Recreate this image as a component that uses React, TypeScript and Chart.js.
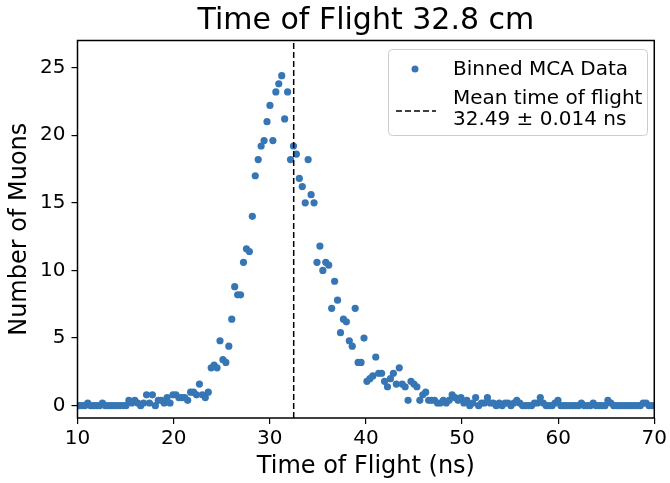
import { useEffect, useRef } from 'react';
import { Chart, registerables } from 'chart.js';

Chart.register(...registerables);

// MCA channel calibration (bin centers)
const binStart = 10.15;
const binWidth = 0.3057;

// Binned counts, one value per bin
const counts: number[] = [
  0, 0, 0, 0.2, 0, 0, 0, 0, 0.2, 0, 0, 0, 0, 0, 0, 0, 0,
  0.4, 0.2, 0.4, 0.2, 0, 0.2, 0.8, 0.2, 0.8, 0, 0.4, 0.4, 0.2, 0.6, 0.2, 0.8, 0.8, 0.6, 0.6, 0.6, 0.4,
  1.0, 1.0, 0.8, 1.6, 0.8, 0.6, 1.0, 2.8, 3.0, 2.8, 4.8, 3.4, 3.2, 4.4, 6.4, 8.8, 8.2, 8.2, 10.6, 11.6,
  11.4, 14.0, 17.0, 18.2, 19.2, 19.6, 21.0, 22.2, 19.6, 23.2, 23.8, 24.4, 21.2, 23.2, 18.2, 19.2, 18.6, 16.8, 16.2, 15.0, 18.2, 15.6, 15.0,
  10.6, 11.8, 10.0, 10.6, 10.4, 7.2, 9.2, 7.8, 5.4, 6.4, 6.2, 4.8, 4.4, 7.2, 3.2, 3.2, 5.0,
  1.8, 2.0, 2.2, 3.6, 2.4, 2.4, 1.8, 1.4, 2.0, 2.4, 1.6, 2.8, 1.6, 1.4, 0.4, 1.8, 1.6, 1.4, 0.4, 0.8, 1.0, 0.4, 0.4, 0.4, 0.2,
  0.2, 0.4, 0.2, 0.4, 0.8, 0.6, 0.4, 0.6, 0.2, 0.4, 0, 0.2, 0.6, 0, 0.2, 0.2, 0.6, 0.2, 0.2, 0, 0.2, 0, 0.2, 0.2, 0,
  0.2, 0.4, 0.2, 0, 0, 0, 0, 0.2, 0.2, 0.6, 0.2, 0, 0, 0, 0.2, 0.4, 0, 0, 0, 0, 0, 0, 0,
  0.2, 0, 0, 0, 0.2, 0, 0, 0, 0, 0.4, 0.2, 0, 0, 0, 0, 0, 0, 0, 0, 0, 0, 0.2, 0.2, 0, 0,
];

const meanTime = 32.49;
const xMin = 10;
const xMax = 70;
const yMin = -0.91;
const yMax = 27.0;
const xTicks = [10, 20, 30, 40, 50, 60, 70];
const yTicks = [0, 5, 10, 15, 20, 25];

const titleText = 'Time of Flight 32.8 cm';
const xLabel = 'Time of Flight (ns)';
const yLabel = 'Number of Muons';
const dataLabel = 'Binned MCA Data';
const meanLabel = ['Mean time of flight', '32.49 \u00b1 0.014 ns'];

const pointColor = '#3776b4';
const FONT = "'DejaVu Sans', sans-serif";

export default function App() {
  const canvasRef = useRef<HTMLCanvasElement | null>(null);

  useEffect(() => {
    document.body.style.margin = '0';
    const canvas = canvasRef.current;
    if (!canvas) return;

    const points = counts.map((c, i) => ({ x: binStart + binWidth * i, y: c }));

    const decor = {
      id: 'decor',
      afterDraw(chart: any) {
        const { ctx, chartArea } = chart;
        const { left, right, top, bottom } = chartArea;
        ctx.save();
        // frame
        ctx.strokeStyle = '#000';
        ctx.lineWidth = 1.5;
        ctx.strokeRect(left, top, right - left, bottom - top);
        // title
        ctx.fillStyle = '#000';
        ctx.font = `30px ${FONT}`;
        ctx.textAlign = 'center';
        ctx.textBaseline = 'alphabetic';
        ctx.fillText(titleText, (left + right) / 2, 29);

        // legend box
        const bx = 388.5, by = 49.5, bw = 259, bh = 86, r = 4;
        ctx.beginPath();
        ctx.moveTo(bx + r, by);
        ctx.lineTo(bx + bw - r, by);
        ctx.quadraticCurveTo(bx + bw, by, bx + bw, by + r);
        ctx.lineTo(bx + bw, by + bh - r);
        ctx.quadraticCurveTo(bx + bw, by + bh, bx + bw - r, by + bh);
        ctx.lineTo(bx + r, by + bh);
        ctx.quadraticCurveTo(bx, by + bh, bx, by + bh - r);
        ctx.lineTo(bx, by + r);
        ctx.quadraticCurveTo(bx, by, bx + r, by);
        ctx.closePath();
        ctx.fillStyle = 'rgba(255,255,255,0.8)';
        ctx.fill();
        ctx.strokeStyle = '#cccccc';
        ctx.lineWidth = 1;
        ctx.stroke();

        // legend marker
        ctx.fillStyle = pointColor;
        ctx.beginPath();
        ctx.arc(415, 69, 3.5, 0, Math.PI * 2);
        ctx.fill();
        // legend dashed line
        ctx.strokeStyle = '#000';
        ctx.lineWidth = 1.5;
        ctx.setLineDash([6, 3]);
        ctx.beginPath();
        ctx.moveTo(396, 111);
        ctx.lineTo(436, 111);
        ctx.stroke();
        ctx.setLineDash([]);

        ctx.fillStyle = '#000';
        ctx.font = `20px ${FONT}`;
        ctx.textAlign = 'left';
        ctx.textBaseline = 'alphabetic';
        ctx.fillText(dataLabel, 453, 75);
        ctx.fillText(meanLabel[0], 453, 104);
        ctx.fillText(meanLabel[1], 453, 125);
        ctx.restore();
      },
    };

    const chart = new Chart(canvas, {
      type: 'scatter',
      data: {
        datasets: [
          {
            type: 'line',
            label: meanLabel.join(' '),
            data: [
              { x: meanTime, y: yMin },
              { x: meanTime, y: yMax },
            ],
            borderColor: '#000',
            borderWidth: 1.5,
            borderDash: [6, 3],
            pointRadius: 0,
            fill: false,
          } as any,
          {
            label: dataLabel,
            data: points,
            backgroundColor: pointColor,
            borderWidth: 0,
            pointRadius: 3.6,
          },
        ],
      },
      options: {
        responsive: false,
        animation: false,
        events: [],
        font: { family: FONT },
        layout: { padding: { left: 0, right: 13, top: 40.5, bottom: 0 } },
        plugins: {
          legend: { display: false },
          tooltip: { enabled: false },
          title: { display: false },
        },
        scales: {
          x: {
            type: 'linear',
            min: xMin,
            max: xMax,
            afterBuildTicks: (s: any) => {
              s.ticks = xTicks.map((v) => ({ value: v }));
            },
            afterFit: (s: any) => {
              s.height = 65;
            },
            grid: {
              drawOnChartArea: false,
              drawTicks: true,
              tickLength: 6,
              color: '#000',
              lineWidth: 1.2,
            },
            border: { display: false },
            ticks: {
              color: '#000',
              font: { family: FONT, size: 20 },
              padding: 3,
              maxRotation: 0,
              autoSkip: false,
            },
            title: {
              display: true,
              text: xLabel,
              color: '#000',
              font: { family: FONT, size: 24, lineHeight: 1 },
              padding: { top: 0, bottom: 4 },
            },
          },
          y: {
            type: 'linear',
            min: yMin,
            max: yMax,
            afterBuildTicks: (s: any) => {
              s.ticks = yTicks.map((v) => ({ value: v }));
            },
            afterFit: (s: any) => {
              s.width = 77.5;
            },
            grid: {
              drawOnChartArea: false,
              drawTicks: true,
              tickLength: 6,
              color: '#000',
              lineWidth: 1.2,
            },
            border: { display: false },
            ticks: {
              color: '#000',
              font: { family: FONT, size: 20 },
              padding: 6,
              autoSkip: false,
            },
            title: {
              display: true,
              text: yLabel,
              color: '#000',
              font: { family: FONT, size: 24, lineHeight: 1 },
              padding: { top: 8, bottom: 0 },
            },
          },
        },
      },
      plugins: [decor],
    });

    return () => {
      chart.destroy();
    };
  }, []);

  return (
    <div style={{ width: 670, height: 483 }}>
      <canvas ref={canvasRef} width={670} height={483} style={{ display: 'block' }} />
    </div>
  );
}
